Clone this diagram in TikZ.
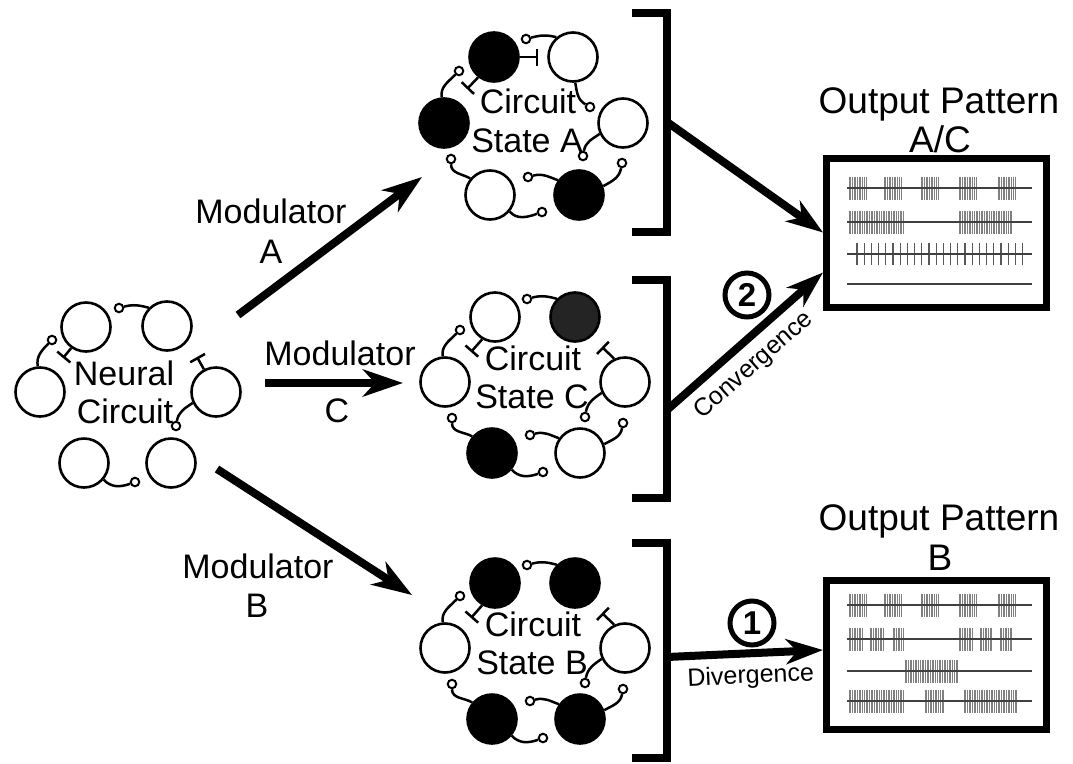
\documentclass[tikz,border=0pt]{standalone}
\usepackage{fontspec}
\setmainfont{Liberation Sans}
\usetikzlibrary{arrows.meta}
\newcommand{\burst}[3]{%
  \pgfmathtruncatemacro{\nb}{(#2-#1)/1.7}%
  \foreach \k in {0,...,\nb}{\draw[spk] ({#1+1.7*\k},{-#3+11.5}) -- ({#1+1.7*\k},{-#3-11.5});}%
}
\newcommand{\cktCB}[8]{%
  \node[neuron,fill=#2] (#1n1) at (495,-317) {};
  \node[neuron,fill=#3] (#1n2) at (575,-317) {};
  \node[neuron,fill=#4] (#1n3) at (445,-382) {};
  \node[neuron,fill=#5] (#1n4) at (625,-382) {};
  \node[neuron,fill=#6] (#1n5) at (492,-453) {};
  \node[neuron,fill=#7] (#1n6) at (580,-453) {};
  \node[term] (#1t1) at (527,-299) {};
  \node[term] (#1t2) at (460,-330) {};
  \coordinate (#1i1) at (471,-352);
  \coordinate (#1i2) at (602,-347);
  \node[term] (#1t3) at (585,-417) {};
  \node[term] (#1t4) at (452,-418) {};
  \node[term] (#1t5) at (543,-472) {};
  \node[term] (#1t6) at (530,-435) {};
  \node[term] (#1t7) at (623,-423) {};
  \draw[exc] (#1n2.135) to[out=165,in=15] (#1t1);
  \draw[exc] (#1n3.95) to[out=100,in=225] (#1t2);
  \draw[inhib] (#1n1.240) -- (#1i1);
  \draw[inhib] (#1n4.115) -- (#1i2);
  \draw[exc] (#1n4.205) to[out=215,in=80] (#1t3);
  \draw[exc] (#1n5.140) to[out=150,in=270] (#1t4);
  \draw[exc] (#1n5.-40) to[out=-50,in=200] (#1t5);
  \draw[exc] (#1n6.145) to[out=160,in=15] (#1t6);
  \draw[exc] (#1n6.20) to[out=30,in=260] (#1t7);
  \node[lbl] (#1l1) at (533,-370) {Circuit};
  \node[lbl] (#1l2) at (532,-408) {State #8};
}
\begin{document}
\begin{tikzpicture}[x=1pt,y=1pt,
  neuron/.style={circle,draw,line width=2.6,minimum size=49,inner sep=0},
  term/.style={circle,draw,line width=2,minimum size=8.5,inner sep=0,fill=white},
  exc/.style={line width=2.5},
  inhib/.style={line width=2.5,-{Bar[width=17]}},
  lbl/.style={font=\fontsize{34}{40}\selectfont,inner sep=0,anchor=base},
  ttl/.style={font=\fontsize{37}{40}\selectfont,inner sep=0,anchor=base},
  modarrow/.style={line width=8,-{Stealth[length=40,width=27,inset=12]}},
  outarrow/.style={line width=8,-{Stealth[length=37,width=25,inset=11]}},
  brk/.style={line width=8},
  outbox/.style={draw,line width=7,minimum width=220,minimum height=149,inner sep=0},
  trainline/.style={line width=1.1,black!75},
  spk/.style={line width=0.9,black!50},
  spkd/.style={line width=1.1,black!65},
  circnum/.style={circle,draw,line width=5,minimum size=44,inner sep=0,font=\fontsize{33}{33}\selectfont\bfseries},
  lblsmall/.style={font=\fontsize{25}{28}\selectfont,inner sep=0}
]
\fill[white] (0,0) rectangle (1073,-763);
\useasboundingbox (0,0) rectangle (1073,-763);

% ---------- Neural circuit ----------
\node[neuron] (n1) at (86,-327) {};
\node[neuron] (n2) at (167,-326) {};
\node[neuron] (n3) at (40,-392) {};
\node[neuron] (n4) at (216,-392) {};
\node[neuron] (n5) at (84,-463) {};
\node[neuron] (n6) at (171,-463) {};
\node[term] (tn1) at (119,-308) {};
\node[term] (tn2) at (52,-340) {};
\coordinate (in1) at (63,-358);
\coordinate (in2) at (197,-357);
\node[term] (tn3) at (176,-426) {};
\node[term] (tn4) at (135,-482) {};
\draw[exc] (n2.135) to[out=165,in=15] (tn1);
\draw[exc] (n3.95) to[out=100,in=225] (tn2);
\draw[inhib] (n1.235) -- (in1);
\draw[inhib] (n4.118) -- (in2);
\draw[exc] (n4.205) to[out=215,in=80] (tn3);
\draw[exc] (n5.-40) to[out=-50,in=200] (tn4);
\node[lbl] (nl1) at (124,-385) {Neural};
\node[lbl] (nl2) at (125,-423) {Circuit};

% ---------- Circuit state A ----------
\node[neuron,fill=black] (a1) at (494,-57) {};
\node[neuron,fill=white] (a2) at (573,-57) {};
\node[neuron,fill=black] (a3) at (444,-123) {};
\node[neuron,fill=white] (a4) at (623,-123) {};
\node[neuron,fill=white] (a5) at (490,-195) {};
\node[neuron,fill=black] (a6) at (579,-195) {};
\node[term] (ta1) at (526,-39) {};
\node[term] (ta2) at (459,-71) {};
\node[term] (ta3) at (590,-107) {};
\node[term] (ta4) at (583,-156) {};
\node[term] (ta5) at (451,-159) {};
\node[term] (ta6) at (542,-212) {};
\node[term] (ta7) at (528,-177) {};
\node[term] (ta8) at (622,-163) {};
\coordinate (ia1) at (538,-57);
\coordinate (ia2) at (467,-89);
\draw[exc] (a2.130) to[out=165,in=15] (ta1);
\draw[exc] (a3.95) to[out=100,in=225] (ta2);
\draw[inhib] (a1.0) -- (ia1);
\draw[inhib] (a1.232) -- (ia2);
\draw[exc] (a2.-85) to[out=-80,in=150] (ta3);
\draw[exc] (a4.205) to[out=215,in=80] (ta4);
\draw[exc] (a5.140) to[out=150,in=270] (ta5);
\draw[exc] (a5.-40) to[out=-50,in=200] (ta6);
\draw[exc] (a6.145) to[out=160,in=15] (ta7);
\draw[exc] (a6.20) to[out=30,in=260] (ta8);
\node[lbl] (al1) at (528,-113) {Circuit};
\node[lbl] (al2) at (527,-152) {State A};

% ---------- Circuit states C and B ----------
\cktCB{c}{white}{black!86}{white}{white}{black}{white}{C}
\begin{scope}[yshift=-266]
\cktCB{b}{black}{black}{white}{white}{black}{black}{B}
\end{scope}

% ---------- Modulator arrows ----------
\coordinate (mA0) at (238,-315);
\coordinate (mA1) at (422,-177);
\coordinate (mC0) at (265,-383);
\coordinate (mC1) at (403,-383);
\coordinate (mB0) at (217,-469);
\coordinate (mB1) at (412,-595);
\draw[modarrow] (mA0) -- (mA1);
\draw[modarrow] (mC0) -- (mC1);
\draw[modarrow] (mB0) -- (mB1);
\node[lbl] (modA) at (271,-223) {Modulator};
\node[lbl] (modAl) at (271,-263) {A};
\node[lbl] (modC) at (340,-365) {Modulator};
\node[lbl] (modCl) at (337,-422) {C};
\node[lbl] (modB) at (258,-578) {Modulator};
\node[lbl] (modBl) at (257,-617) {B};

% ---------- Brackets ----------
\draw[brk] (632,-13) -- (667,-13) -- (667,-232) -- (632,-232);
\draw[brk] (632,-280) -- (667,-280) -- (667,-498) -- (632,-498);
\draw[brk] (632,-543) -- (667,-543) -- (667,-758) -- (632,-758);
\coordinate (brA) at (667,-122);
\coordinate (brC) at (667,-410);
\coordinate (brB) at (667,-657);

% ---------- Output boxes ----------
\node[outbox] (outAC) at (936.5,-232.5) {};
\node[outbox] (outB) at (936.5,-655) {};
\node[ttl] (tAC1) at (939,-113) {Output Pattern};
\node[ttl] (tAC2) at (940,-152) {A/C};
\node[ttl] (tB1) at (939,-530) {Output Pattern};
\node[ttl] (tB2) at (940,-570) {B};

% spike trains A/C
\burst{849}{867}{188}\burst{884}{902}{188}\burst{921}{938}{188}\burst{959}{977}{188}\burst{998}{1016}{188}
\burst{849}{904}{222}\burst{959}{1013}{222}
\foreach \k in {0,...,23}{\draw[spkd] ({857+7.2*\k},-243) -- ({857+7.2*\k},-265);}
\draw[trainline] (847,-188) -- (1032,-188);
\draw[trainline] (847,-222) -- (1032,-222);
\draw[trainline] (847,-254) -- (1032,-254);
\draw[trainline] (847,-284) -- (1032,-284);

% spike trains B
\burst{849}{867}{605}\burst{884}{902}{605}\burst{921}{938}{605}\burst{959}{977}{605}\burst{998}{1016}{605}
\burst{849}{863}{639}\burst{870}{885}{639}\burst{893}{904}{639}\burst{959}{973}{639}\burst{980}{993}{639}\burst{1000}{1013}{639}
\burst{905}{959}{671}
\burst{849}{904}{701}\burst{925}{945}{701}\burst{964}{1018}{701}
\draw[trainline] (847,-605) -- (1032,-605);
\draw[trainline] (847,-639) -- (1032,-639);
\draw[trainline] (847,-671) -- (1032,-671);
\draw[trainline] (847,-701) -- (1032,-701);

% ---------- Output arrows ----------
\draw[outarrow] (brA) -- (outAC.west);
\draw[outarrow] (brC) -- node[lblsmall,sloped,pos=0.455,below=9]{Convergence} ([yshift=-40]outAC.west);
\draw[outarrow] (brB) -- node[lblsmall,sloped,pos=0.53,below=8]{Divergence} ([yshift=5]outB.west);
\node[circnum] (num2) at (747,-295) {2};
\node[circnum] (num1) at (752,-623) {1};
\end{tikzpicture}
\end{document}
